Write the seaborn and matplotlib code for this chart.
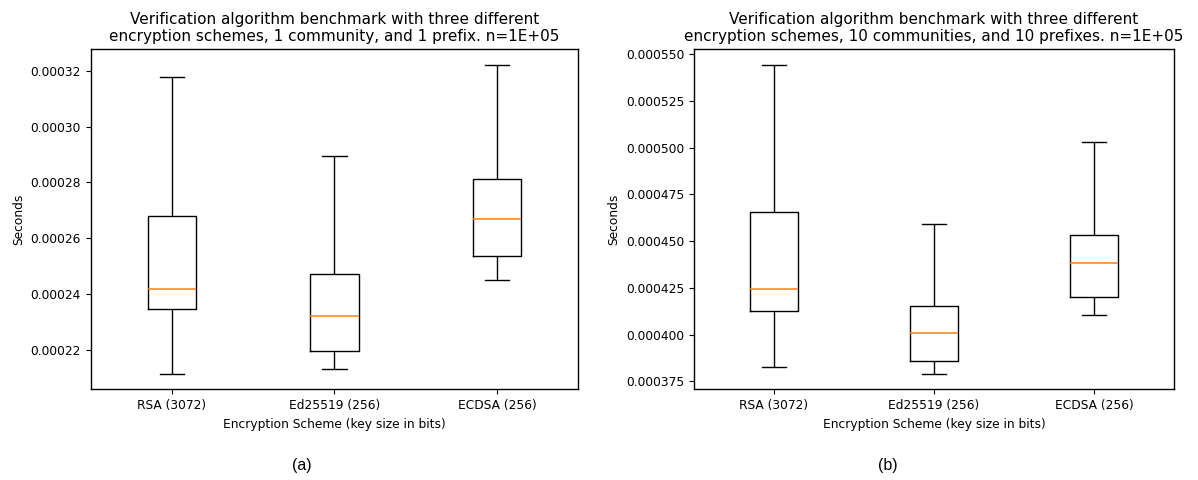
import matplotlib
matplotlib.use("Agg")
import matplotlib.pyplot as plt
import pandas as pd
import seaborn as sns

# Scheme labels on the x axis
schemes = ["RSA (3072)", "Ed25519 (256)", "ECDSA (256)"]

# Box summaries per scheme: [lower whisker, Q1, median, Q3, upper whisker] in seconds
# (a) 1 community, 1 prefix
rsa_a = [0.0002114, 0.0002348, 0.0002419, 0.0002680, 0.0003178]
ed_a = [0.0002132, 0.0002195, 0.0002322, 0.0002473, 0.0002896]
ecdsa_a = [0.0002449, 0.0002536, 0.0002667, 0.0002811, 0.0003221]

# (b) 10 communities, 10 prefixes
rsa_b = [0.0003829, 0.0004126, 0.0004246, 0.0004657, 0.0005442]
ed_b = [0.0003790, 0.0003861, 0.0004010, 0.0004155, 0.0004591]
ecdsa_b = [0.0004106, 0.0004201, 0.0004385, 0.0004530, 0.0005031]

titles = [
    "Verification algorithm benchmark with three different\n"
    "encryption schemes, 1 community, and 1 prefix. n=1E+05",
    "Verification algorithm benchmark with three different\n"
    "encryption schemes, 10 communities, and 10 prefixes. n=1E+05",
]
captions = ["(a)", "(b)"]


def long_frame(groups):
    rows = []
    for name, vals in zip(schemes, groups):
        for v in vals:
            rows.append({"scheme": name, "seconds": v})
    return pd.DataFrame(rows)


frames = [long_frame([rsa_a, ed_a, ecdsa_a]), long_frame([rsa_b, ed_b, ecdsa_b])]

plt.rcParams["font.family"] = ["DejaVu Sans"]
fig = plt.figure(figsize=(11.98, 4.8), dpi=100)
ax_a = fig.add_axes([0.0757, 0.189, 0.407, 0.708])
ax_b = fig.add_axes([0.5793, 0.189, 0.4007, 0.708])

for ax, df, title in zip([ax_a, ax_b], frames, titles):
    sns.boxplot(
        data=df, x="scheme", y="seconds", order=schemes, ax=ax,
        fill=False, color="black", linewidth=1.0, width=0.3,
        whis=(0, 100), showfliers=False,
        medianprops={"color": "#ff7f0e", "linewidth": 1.1},
    )
    ax.set_title(title, fontsize=11)
    ax.set_xlabel("Encryption Scheme (key size in bits)", fontsize=8.8)
    ax.set_ylabel("Seconds", fontsize=8.8)
    ax.tick_params(labelsize=8.8)
    for s in ax.spines.values():
        s.set_visible(True)
        s.set_linewidth(1.0)

fig.text(0.252, 0.03, captions[0], ha="center", va="center",
         fontsize=11.5, family=["Liberation Sans"])
fig.text(0.741, 0.03, captions[1], ha="center", va="center",
         fontsize=11.5, family=["Liberation Sans"])

fig.savefig("out.png", dpi=100)
